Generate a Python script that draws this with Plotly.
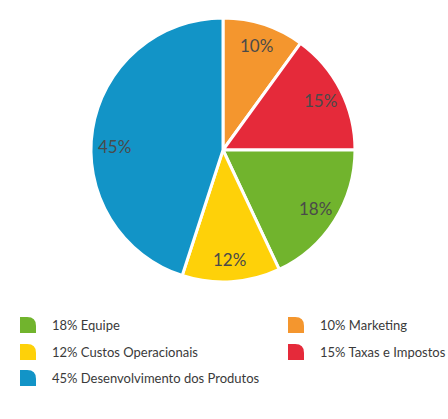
import math
import plotly.graph_objects as go

# Data (pie order clockwise from 12 o'clock)
labels = ["Marketing", "Taxas e Impostos", "Equipe", "Custos Operacionais", "Desenvolvimento dos Produtos"]
values = [10, 15, 18, 12, 45]
colors = ["#F4962E", "#E52A3A", "#71B42D", "#FED109", "#1294C7"]

# Legend order (row-major, two columns)
legend_order = ["Equipe", "Marketing", "Custos Operacionais", "Taxas e Impostos", "Desenvolvimento dos Produtos"]

# small per-label nudges (pixels) for the percentage labels
label_nudge_y = [0, 0, 0, 0, 14]

W, H = 448, 419
cx, cy, R = 223, 150, 132  # pixel geometry of the pie

fig = go.Figure()
fig.add_trace(go.Pie(
    labels=labels, values=values, sort=False, direction="clockwise", rotation=0,
    marker=dict(colors=colors, line=dict(color="white", width=3)),
    textinfo="none", hoverinfo="label+percent", showlegend=False,
    domain=dict(x=[(cx - R) / W, (cx + R) / W], y=[(H - cy - R) / H, (H - cy + R) / H]),
))

annotations = []
shapes = []
total = sum(values)
cum = 0
for lab, v, ny in zip(labels, values, label_nudge_y):
    mid = (cum + v / 2) / total * 2 * math.pi
    cum += v
    r = 0.83 * R
    px = cx + r * math.sin(mid)
    py = cy - r * math.cos(mid) + ny
    annotations.append(dict(
        x=px / W, y=1 - py / H, xref="paper", yref="paper", showarrow=False,
        text=f"{round(v / total * 100)}%", font=dict(family="Lato", size=17, color="#4a4a4a"),
        xanchor="center", yanchor="middle"))

col_x = [20, 288]
row_y = [325, 352, 378]
s = 16
for i, lab in enumerate(legend_order):
    v = values[labels.index(lab)]
    c = colors[labels.index(lab)]
    x0 = col_x[i % 2]
    yc = row_y[i // 2]
    y0 = yc - s / 2
    x1 = x0 + s
    y1 = yc + s / 2
    k = 0.55 * s
    def P(x, y):
        return f"{x / W:.5f},{1 - y / H:.5f}"
    path = (f"M {P(x0, y1)} L {P(x0, y0)} L {P(x1 - k, y0)} "
            f"Q {P(x1, y0)} {P(x1, y0 + k)} L {P(x1, y1)} Z")
    shapes.append(dict(type="path", path=path, xref="paper", yref="paper",
                       fillcolor=c, line=dict(width=0)))
    annotations.append(dict(
        x=(x0 + 30) / W, y=1 - yc / H, xref="paper", yref="paper", showarrow=False,
        text=f"{v}% {lab}", font=dict(family="Lato", size=13, color="#3a3a3a"),
        xanchor="left", yanchor="middle"))

fig.update_layout(
    width=W, height=H, margin=dict(l=0, r=0, t=0, b=0),
    paper_bgcolor="white", plot_bgcolor="white",
    annotations=annotations, shapes=shapes,
)
fig.write_html("out.html")
